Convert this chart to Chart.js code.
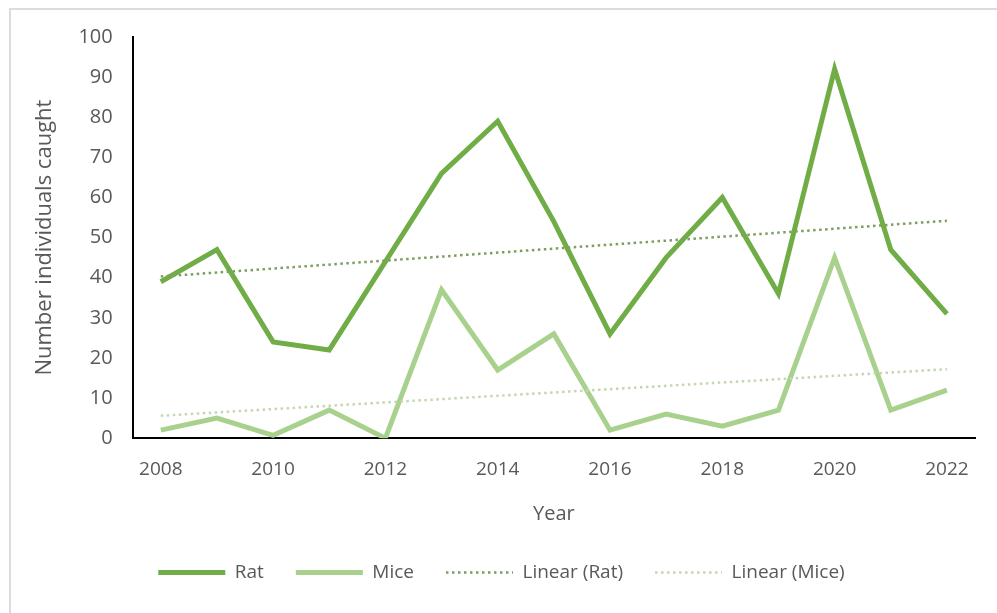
<!DOCTYPE html>
<html>
<head>
<meta charset="utf-8">
<script src="https://cdn.jsdelivr.net/npm/chart.js@4"></script>
<style>
  html, body { margin:0; padding:0; background:#fff; }
  #wrap { position:relative; width:997px; height:613px; }
  #frame { position:absolute; left:9px; top:8px; right:-4px; bottom:-4px; border-top:2px solid #dcdcdc; border-left:2px solid #dcdcdc; }
  canvas { position:absolute; left:0; top:0; }
</style>
</head>
<body>
<div id="wrap">
  <div id="frame"></div>
  <canvas id="chart" width="997" height="613"></canvas>
</div>
<script>
// ── Data ───────────────────────────────────────────────────────
const years      = [2008,2009,2010,2011,2012,2013,2014,2015,2016,2017,2018,2019,2020,2021,2022];
const ratCounts  = [39,47,24,22,44,66,79,54,26,45,60,36,92,47,31];
const miceCounts = [2,5,0.7,7,0,37,17,26,2,6,3,7,45,7,12];
const trendYears = [2008,2022];
const ratTrend   = [40.3,54.2];
const miceTrend  = [5.6,17.2];
const xTicks     = [2008,2010,2012,2014,2016,2018,2020,2022];

const C = { rat:'#70ad47', mice:'#a9d18e', ratTrend:'#7e9e60', miceTrend:'#c3d8b0',
            text:'#595959', axis:'#000000' };
const FONT = "'Open Sans', 'Liberation Sans', sans-serif";

const pts = (xs, ys) => xs.map((x,i) => ({ x, y:ys[i] }));

const chart = new Chart(document.getElementById('chart').getContext('2d'), {
  type:'scatter',
  data:{ datasets:[
    { label:'Rat', data:pts(years, ratCounts), showLine:true, borderColor:C.rat, backgroundColor:C.rat,
      borderWidth:5, pointRadius:0, order:1, borderJoinStyle:'miter' },
    { label:'Mice', data:pts(years, miceCounts), showLine:true, borderColor:C.mice, backgroundColor:C.mice,
      borderWidth:5, pointRadius:0, order:2, borderJoinStyle:'miter' },
    { label:'Linear (Rat)', data:pts(trendYears, ratTrend), showLine:true, borderColor:C.ratTrend, backgroundColor:C.ratTrend,
      borderWidth:2.5, borderDash:[2.5,3.5], pointRadius:0, order:0 },
    { label:'Linear (Mice)', data:pts(trendYears, miceTrend), showLine:true, borderColor:C.miceTrend, backgroundColor:C.miceTrend,
      borderWidth:2.5, borderDash:[2.5,3.5], pointRadius:0, order:0 },
  ]},
  options:{
    responsive:false, animation:false,
    layout:{ padding:{ left:28, right:22, top:37, bottom:21 } },
    plugins:{
      tooltip:{ enabled:false },
      legend:{ position:'bottom',
        labels:{ usePointStyle:true, pointStyle:'line', pointStyleWidth:67, padding:32,
                 color:C.text, font:{ family:FONT, size:19 },
                 sort:(a,b) => a.datasetIndex - b.datasetIndex,
                 generateLabels:ch => Chart.defaults.plugins.legend.labels.generateLabels(ch).map(it => {
                   const ds = ch.data.datasets[it.datasetIndex];
                   return { ...it, lineDash:ds.borderDash || [], lineWidth:ds.borderWidth, strokeStyle:ds.borderColor };
                 }) } },
    },
    scales:{
      x:{ type:'linear', min:2007.5, max:2022.5,
        afterBuildTicks:ax => { ax.ticks = xTicks.map(v => ({ value:v })); },
        grid:{ display:false, drawTicks:false },
        border:{ color:C.axis, width:2 },
        ticks:{ color:C.text, font:{ family:FONT, size:19 }, padding:20, callback:v => String(v) },
        title:{ display:true, text:'Year', color:C.text, font:{ family:FONT, size:20 }, padding:{ top:1, bottom:5 } },
      },
      y:{ min:0, max:100,
        grid:{ display:false, drawTicks:false },
        border:{ color:C.axis, width:2 },
        ticks:{ stepSize:10, color:C.text, font:{ family:FONT, size:20 }, padding:20 },
        title:{ display:true, text:'Number individuals caught', color:C.text, font:{ family:FONT, size:22 }, padding:{ bottom:0 } },
      },
    },
  },
});
</script>
</body>
</html>
